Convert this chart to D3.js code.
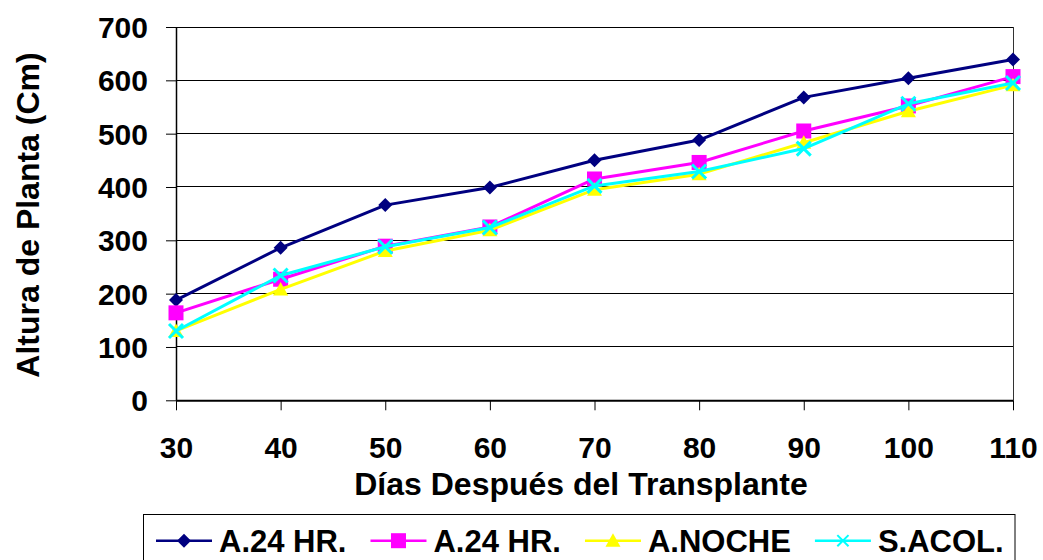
<!DOCTYPE html>
<html>
<head>
<meta charset="utf-8">
<script src="https://cdn.jsdelivr.net/npm/d3@7/dist/d3.min.js"></script>
<style>
  html, body { margin: 0; padding: 0; background: #fff; }
  svg { display: block; }
  text { font-family: Arial, "Liberation Sans", sans-serif; font-weight: bold; fill: #000; }
</style>
</head>
<body>
<svg id="chart" width="1043" height="560"></svg>
<script>
// Datos
const dias = [30, 40, 50, 60, 70, 80, 90, 100, 110]
const a24hrA  = [188, 286, 366, 399, 450, 488, 568, 604, 639]
const a24hrB  = [164, 227, 289, 325, 415, 446, 505, 552, 607]
const aNoche  = [130, 208, 280, 319, 395, 424, 483, 542, 591]
const sAcol   = [130, 234, 288, 324, 402, 429, 472, 556, 595]
const yTicks  = [0, 100, 200, 300, 400, 500, 600, 700]
const xTicks  = [30, 40, 50, 60, 70, 80, 90, 100, 110]
const nombres = ["A.24 HR.", "A.24 HR.", "A.NOCHE", "S.ACOL."]

const series = [
    { name: nombres[0], values: a24hrA, color: "#000080", marker: "diamond" },
    { name: nombres[1], values: a24hrB, color: "#FF00FF", marker: "square" },
    { name: nombres[2], values: aNoche, color: "#FFFF00", marker: "triangle" },
    { name: nombres[3], values: sAcol,  color: "#00FFFF", marker: "x" },
]

const svg = d3.select("#chart")
const plot = { left: 176, right: 1013, top: 27, bottom: 400.3 }

const x = d3.scaleLinear().domain([30, 110]).range([plot.left, plot.right])
const y = d3.scaleLinear().domain([0, 700]).range([plot.bottom, plot.top])

// Marker shapes (Excel style)
function drawMarker(g, type, color, s) {
    if (type === "diamond") {
        g.append("path").attr("d", `M0,${-s * 7}L${s * 7},0L0,${s * 7}L${-s * 7},0Z`).attr("fill", color)
    } else if (type === "square") {
        g.append("rect").attr("x", -7.5 * s).attr("y", -7.5 * s).attr("width", 15 * s).attr("height", 15 * s).attr("fill", color)
    } else if (type === "triangle") {
        g.append("path").attr("d", `M0,${-7.5 * s}L${7.5 * s},${6 * s}L${-7.5 * s},${6 * s}Z`).attr("fill", color)
    } else {
        const r = 7 * s
        g.append("path").attr("d", `M${-r},${-r}L${r},${r}M${-r},${r}L${r},${-r}`)
            .attr("stroke", color).attr("stroke-width", s < 1 ? 2 : 3).attr("fill", "none")
    }
}

// Gridlines
svg.append("g")
    .selectAll("line")
    .data(yTicks.filter(d => d > 0))
    .join("line")
    .attr("x1", plot.left).attr("x2", plot.right)
    .attr("y1", d => y(d)).attr("y2", d => y(d))
    .attr("stroke", "#000").attr("stroke-width", 1)
    .attr("shape-rendering", "crispEdges")

// Right border of plot area
svg.append("line")
    .attr("x1", plot.right).attr("x2", plot.right)
    .attr("y1", plot.top).attr("y2", plot.bottom)
    .attr("stroke", "#333").attr("stroke-width", 1)
    .attr("shape-rendering", "crispEdges")

// Y axis
const yAxis = svg.append("g")
    .attr("transform", `translate(${plot.left},0)`)
    .call(d3.axisLeft(y).tickValues(yTicks).tickSize(10).tickSizeOuter(0).tickPadding(18))
yAxis.select(".domain").attr("stroke", "#000").attr("stroke-width", 1.5)
yAxis.selectAll(".tick line").attr("stroke", "#000").attr("stroke-width", 1)
yAxis.selectAll(".tick text")
    .attr("font-size", 30).attr("font-family", null).attr("dy", "0.35em")

// X axis
const xAxis = svg.append("g")
    .attr("transform", `translate(0,${plot.bottom})`)
    .call(d3.axisBottom(x).tickValues(xTicks).tickSize(10).tickSizeOuter(0).tickPadding(0))
xAxis.select(".domain").attr("stroke", "#000").attr("stroke-width", 2)
xAxis.selectAll(".tick line").attr("stroke", "#000").attr("stroke-width", 1)
xAxis.selectAll(".tick text")
    .attr("font-size", 30).attr("font-family", null).attr("y", 58).attr("dy", 0)

// Axis titles
svg.append("text")
    .attr("x", 581).attr("y", 495)
    .attr("text-anchor", "middle")
    .attr("font-size", 32)
    .text("Días Después del Transplante")

svg.append("text")
    .attr("transform", "translate(39,215) rotate(-90)")
    .attr("text-anchor", "middle")
    .attr("font-size", 32)
    .text("Altura de Planta (Cm)")

// Series lines and markers
const line = d3.line().x((d, i) => x(dias[i])).y(d => y(d))
series.forEach(s => {
    svg.append("path")
        .datum(s.values)
        .attr("fill", "none")
        .attr("stroke", s.color)
        .attr("stroke-width", 3)
        .attr("stroke-linejoin", "round")
        .attr("d", line)
    const mg = svg.append("g")
    s.values.forEach((v, i) => {
        const g = mg.append("g").attr("transform", `translate(${x(dias[i])},${y(v)})`)
        drawMarker(g, s.marker, s.color, 1)
    })
})

// Legend
const legend = svg.append("g")
legend.append("rect")
    .attr("x", 143.5).attr("y", 514.5)
    .attr("width", 871.5).attr("height", 70)
    .attr("fill", "#fff").attr("stroke", "#000").attr("stroke-width", 1)

let lx = 156
const ly = 540.7
series.forEach(s => {
    legend.append("line")
        .attr("x1", lx).attr("x2", lx + 56)
        .attr("y1", ly).attr("y2", ly)
        .attr("stroke", s.color).attr("stroke-width", 2.5)
    const g = legend.append("g").attr("transform", `translate(${lx + 28},${ly})`)
    drawMarker(g, s.marker, s.color, s.marker === "x" ? 0.8 : 1)
    const t = legend.append("text")
        .attr("x", lx + 63).attr("y", 551.7)
        .attr("font-size", 31)
        .text(s.name)
    lx += 63 + t.node().getComputedTextLength() + 24
})
</script>
</body>
</html>
